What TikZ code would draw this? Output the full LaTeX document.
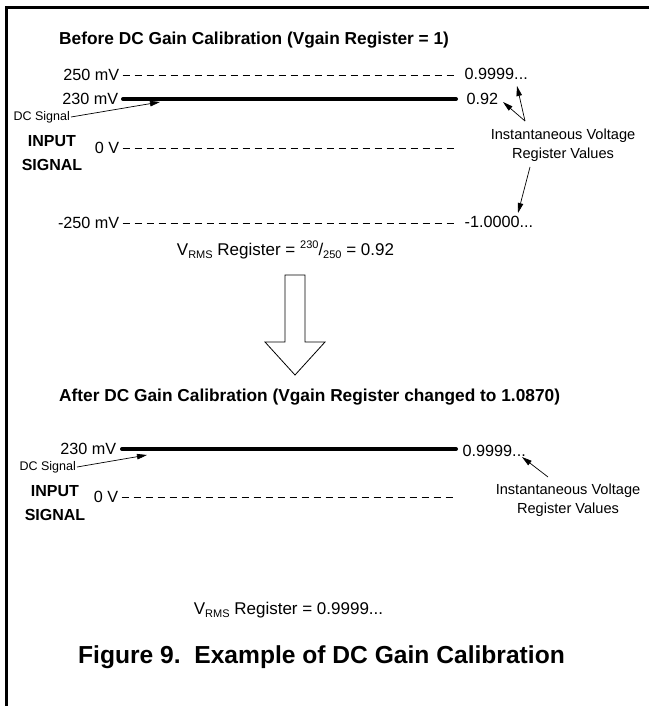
\documentclass[tikz,border=0pt]{standalone}
\usepackage{fontspec}
\setmainfont{Liberation Sans}
\usetikzlibrary{arrows.meta,positioning}

\newcommand{\lowtxt}[1]{\raisebox{-0.4ex}{\fontsize{11}{11}\selectfont #1}}
\newcommand{\hightxt}[1]{\raisebox{0.7ex}{\fontsize{11}{11}\selectfont #1}}

\tikzset{
  lvl/.style={font=\fontsize{16.2}{18}\selectfont, inner sep=1.5pt},
  ttl/.style={font=\bfseries\fontsize{17.3}{20}\selectfont, inner sep=0pt, anchor=west},
  side/.style={font=\bfseries\fontsize{16}{24}\selectfont, align=center, inner sep=0pt},
  tinylbl/.style={font=\fontsize{12.5}{14}\selectfont, inner sep=1pt},
  note/.style={font=\fontsize{14.6}{18.5}\selectfont, align=center, inner sep=0pt},
  rms/.style={font=\fontsize{17}{20}\selectfont, inner sep=0pt},
  refline/.style={dash pattern=on 7.5pt off 4.5pt, line width=0.8pt},
  dcline/.style={line width=4pt, line cap=round},
  pointer/.style={-{Triangle[length=10pt,width=5.5pt]}, line width=0.7pt},
}

\begin{document}
\begin{tikzpicture}[x=1pt,y=-1pt]
\useasboundingbox (0,0) rectangle (649,706);

% frame (top and left edges)
\draw[line width=3pt] (649,7.5) -- (6.5,7.5) -- (6.5,706);

% ---------- before calibration ----------
\node[ttl] (ttlA) at (59,40) {Before DC Gain Calibration (Vgain Register = 1)};

\foreach \nm/\txt/\y in {pA/250 mV/75, zA/0 V/148, nA/-250 mV/223} {
  \node[lvl, anchor=east] (\nm) at (121,\y) {\txt};
  \coordinate (\nm e) at (455,\y);
  \draw[refline] ([xshift=1.5pt]\nm.east) -- (\nm e);
}

\node[lvl, anchor=east] (dcA) at (120,99) {230 mV};
\coordinate (dcAe) at (456,99);
\draw[dcline] ([xshift=3pt]dcA.east) -- (dcAe);

\node[lvl, anchor=west] (vA1) at (463,74) {0.9999...};
\node[lvl, anchor=west] (vA2) at (465,99) {0.92};
\node[lvl, anchor=west] (vA3) at (463,222) {-1.0000...};

\node[tinylbl, anchor=east] (sigA) at (71,117) {DC Signal};
\coordinate (sigAt) at (160,102);
\draw[pointer] (sigA.east) -- (sigAt);

\node[side] (inA) at (52,153) {INPUT\\SIGNAL};

% register value callouts
\node[note] (regA) at (563,145) {Instantaneous Voltage\\Register Values};
\coordinate (forkA) at (525,121);
\coordinate (tipA1) at (517,86);
\coordinate (tipA2) at (503,102);
\coordinate (tailA3) at (530,167);
\coordinate (tipA3) at (518,213);
\draw[pointer] (forkA) -- (tipA1);
\draw[pointer] (forkA) -- (tipA2);
\draw[pointer] (tailA3) -- (tipA3);

\node[rms] (rmsA) at (285.5,250) {V\lowtxt{RMS} Register = \hightxt{230}/\lowtxt{250} = 0.92};

% big hollow arrow
\draw[line width=0.8pt] (285,275) -- (305,275) -- (305,342) -- (325,342)
  -- (295,375) -- (265,342) -- (285,342) -- cycle;

% ---------- after calibration ----------
\node[ttl] (ttlB) at (59,397) {After DC Gain Calibration (Vgain Register changed to 1.0870)};

\node[lvl, anchor=east] (dcB) at (118,449) {230 mV};
\coordinate (dcBe) at (456,449);
\draw[dcline] ([xshift=4pt]dcB.east) -- (dcBe);

\node[lvl, anchor=east] (zB) at (120,497) {0 V};
\coordinate (zBe) at (455,497);
\draw[refline] ([xshift=1.5pt]zB.east) -- (zBe);

\node[lvl, anchor=west] (vB1) at (461,451) {0.9999...};

\node[tinylbl, anchor=east] (sigB) at (77,467) {DC Signal};
\coordinate (sigBt) at (147,455);
\draw[pointer] (sigB.east) -- (sigBt);

\node[side] (inB) at (55,503) {INPUT\\SIGNAL};

\node[note] (regB) at (568,500) {Instantaneous Voltage\\Register Values};
\coordinate (tailB) at (548,477);
\coordinate (tipB) at (522,457);
\draw[pointer] (tailB) -- (tipB);

\node[rms] (rmsB) at (288.5,610) {V\lowtxt{RMS} Register = 0.9999...};

% caption
\node[font=\bfseries\fontsize{24.6}{28}\selectfont, inner sep=0pt, anchor=west] (cap) at (78,657) {Figure 9.\ \ Example of DC Gain Calibration};

\end{tikzpicture}
\end{document}
